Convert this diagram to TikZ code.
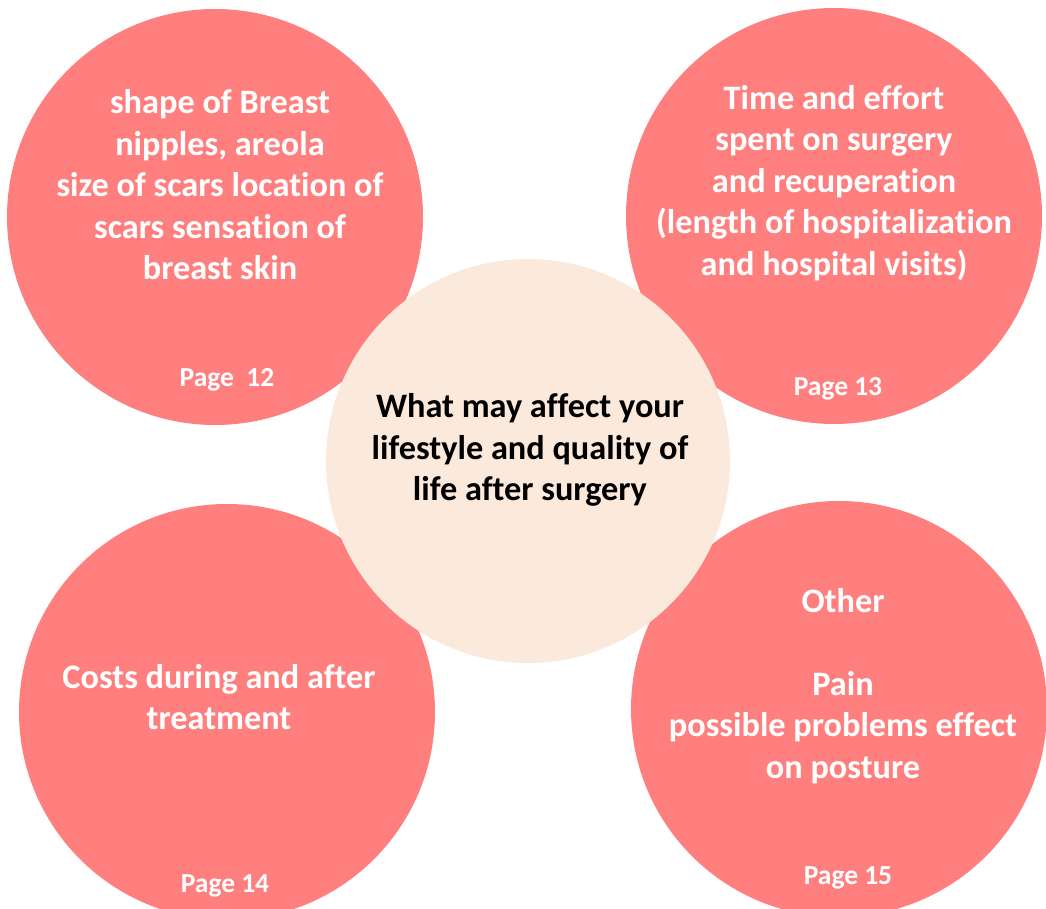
\documentclass[tikz,border=0pt]{standalone}
\usepackage{fontspec}
\setmainfont{Carlito}[RawFeature=-liga]
\definecolor{pinkc}{HTML}{FF7F7F}
\definecolor{peach}{HTML}{FBE9DB}
\begin{document}
\begin{tikzpicture}[x=1pt,y=-1pt,
  pinkcircle/.style={circle,fill=pinkc,draw=none,minimum size=416pt,inner sep=0pt},
  centercircle/.style={circle,fill=peach,draw=none,minimum size=404pt,inner sep=0pt},
  bodytext/.style={align=center,text=white,font=\bfseries\fontsize{34.3}{41.5}\selectfont,inner sep=0pt},
  centertext/.style={align=center,text=black,font=\bfseries\fontsize{34.3}{41.5}\selectfont,inner sep=0pt},
  pagetext/.style={anchor=base,text=white,font=\bfseries\fontsize{27.5}{32}\selectfont,inner sep=0pt}]
\useasboundingbox (0,0) rectangle (1046,909);
\clip (0,0) rectangle (1046,909);
\node[pinkcircle] (tl) at (215,217) {};
\node[pinkcircle] (tr) at (834,216) {};
\node[pinkcircle] (bl) at (227,712) {};
\node[pinkcircle] (br) at (839,709) {};
\node[centercircle] (c) at (528,461) {};
\node[bodytext] (tltext) at (220,185) {shape of Breast\\nipples, areola\\size of scars location of\\scars sensation of\\breast skin};
\node[bodytext] (trtext) at (834,183) {Time and effort\\spent on surgery\\and recuperation\\(length of hospitalization\\and hospital visits)};
\node[centertext] (ctext) at (530,450) {What may affect your\\lifestyle and quality of\\life after surgery};
\node[bodytext] (bltext) at (219,697) {Costs during and after\\treatment};
\node[bodytext] (brtext) at (843,686) {Other\\\mbox{}\\Pain\\possible problems effect\\on posture};
\node[pagetext] (p12) at (227,386) {Page\ \ 12};
\node[pagetext] (p13) at (838,395) {Page 13};
\node[pagetext] (p14) at (225,892) {Page 14};
\node[pagetext] (p15) at (848,884) {Page 15};
\end{tikzpicture}
\end{document}
